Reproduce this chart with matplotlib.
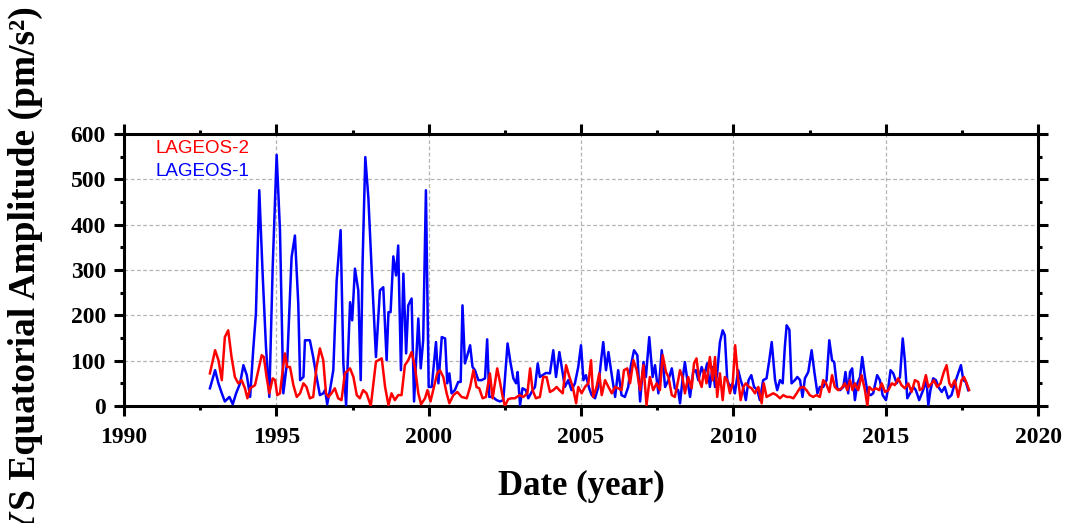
import matplotlib
matplotlib.use("Agg")
import matplotlib.pyplot as plt
from matplotlib.ticker import MultipleLocator

# ---------------- data ----------------
lageos1_years = [
    1992.82, 1992.99, 1993.10, 1993.21, 1993.31, 1993.46, 1993.57, 1993.68, 1993.81, 1993.92,
    1994.03, 1994.14, 1994.24, 1994.33, 1994.44, 1994.55, 1994.66, 1994.77, 1994.88, 1995.01,
    1995.12, 1995.23, 1995.36, 1995.50, 1995.61, 1995.72, 1995.78, 1995.89, 1995.94, 1996.10,
    1996.21, 1996.32, 1996.43, 1996.54, 1996.60, 1996.67, 1996.76, 1996.87, 1996.98, 1997.11,
    1997.20, 1997.29, 1997.36, 1997.42, 1997.49, 1997.58, 1997.69, 1997.77, 1997.83, 1997.92,
    1998.02, 1998.13, 1998.27, 1998.40, 1998.51, 1998.62, 1998.68, 1998.75, 1998.84, 1998.93,
    1999.00, 1999.09, 1999.17, 1999.26, 1999.33, 1999.44, 1999.52, 1999.66, 1999.74, 1999.82,
    1999.91, 2000.00, 2000.10, 2000.24, 2000.32, 2000.43, 2000.54, 2000.61, 2000.68, 2000.75,
    2000.86, 2000.97, 2001.05, 2001.11, 2001.19, 2001.27, 2001.36, 2001.44, 2001.52, 2001.63,
    2001.74, 2001.85, 2001.92, 2001.99, 2002.10, 2002.23, 2002.34, 2002.45, 2002.59, 2002.69,
    2002.78, 2002.87, 2002.92, 2003.00, 2003.08, 2003.19, 2003.27, 2003.38, 2003.49, 2003.58,
    2003.65, 2003.74, 2003.85, 2003.98, 2004.09, 2004.18, 2004.29, 2004.40, 2004.47, 2004.58,
    2004.69, 2004.80, 2004.91, 2005.00, 2005.08, 2005.16, 2005.27, 2005.35, 2005.46, 2005.57,
    2005.66, 2005.73, 2005.82, 2005.90, 2006.01, 2006.12, 2006.22, 2006.33, 2006.44, 2006.55,
    2006.64, 2006.74, 2006.85, 2006.94, 2007.05, 2007.13, 2007.24, 2007.35, 2007.43, 2007.54,
    2007.65, 2007.76, 2007.87, 2007.98, 2008.08, 2008.19, 2008.25, 2008.33, 2008.41, 2008.49,
    2008.58, 2008.68, 2008.77, 2008.85, 2008.96, 2009.05, 2009.14, 2009.23, 2009.32, 2009.40,
    2009.47, 2009.56, 2009.65, 2009.72, 2009.80, 2009.89, 2009.98, 2010.05, 2010.16, 2010.24,
    2010.33, 2010.41, 2010.50, 2010.59, 2010.68, 2010.79, 2010.87, 2010.98, 2011.09, 2011.18,
    2011.26, 2011.37, 2011.44, 2011.53, 2011.62, 2011.69, 2011.75, 2011.84, 2011.91, 2012.02,
    2012.10, 2012.19, 2012.27, 2012.35, 2012.46, 2012.57, 2012.66, 2012.76, 2012.84, 2012.95,
    2013.06, 2013.15, 2013.24, 2013.31, 2013.41, 2013.50, 2013.61, 2013.68, 2013.77, 2013.83,
    2013.90, 2013.99, 2014.07, 2014.16, 2014.23, 2014.32, 2014.41, 2014.51, 2014.59, 2014.72,
    2014.81, 2014.90, 2015.01, 2015.09, 2015.16, 2015.25, 2015.36, 2015.47, 2015.56, 2015.63,
    2015.71, 2015.80, 2015.91, 2015.99, 2016.10, 2016.23, 2016.34, 2016.40, 2016.47, 2016.56,
    2016.65, 2016.73, 2016.84, 2016.94, 2017.05, 2017.16, 2017.27, 2017.38, 2017.47, 2017.55,
    2017.63, 2017.71,
]
lageos1_amp = [
    39, 79, 50, 28, 10, 20, 4, 28, 50, 90,
    68, 20, 123, 204, 476, 292, 130, 20, 306, 554,
    387, 28, 101, 328, 376, 226, 57, 64, 145, 145,
    108, 64, 24, 28, 35, 4, 35, 79, 277, 388,
    94, 2, 123, 229, 189, 303, 255, 57, 314, 549,
    460, 299, 108, 255, 262, 101, 207, 207, 330, 288,
    354, 79, 292, 116, 222, 237, 10, 193, 83, 145,
    476, 42, 42, 141, 50, 152, 149, 50, 72, 28,
    35, 53, 53, 222, 94, 112, 134, 86, 79, 57,
    57, 61, 147, 20, 20, 13, 10, 13, 138, 94,
    61, 50, 75, 2, 39, 35, 17, 31, 42, 94,
    64, 68, 73, 72, 123, 64, 119, 72, 42, 57,
    35, 50, 86, 134, 57, 68, 39, 24, 17, 42,
    101, 141, 79, 119, 68, 20, 79, 24, 20, 42,
    90, 123, 112, 10, 97, 64, 152, 64, 90, 28,
    123, 42, 57, 83, 39, 35, 6, 57, 97, 57,
    20, 75, 79, 57, 86, 68, 94, 42, 86, 42,
    72, 141, 167, 156, 57, 42, 50, 28, 79, 57,
    39, 13, 57, 68, 42, 35, 13, 57, 61, 101,
    141, 57, 35, 57, 50, 130, 178, 168, 50, 57,
    64, 57, 20, 61, 75, 123, 75, 28, 42, 42,
    57, 145, 101, 97, 39, 35, 42, 75, 28, 75,
    83, 13, 50, 64, 108, 64, 28, 24, 28, 68,
    57, 24, 13, 42, 79, 72, 50, 64, 149, 101,
    17, 28, 42, 35, 13, 35, 57, 2, 35, 61,
    57, 42, 31, 42, 17, 24, 50, 72, 90, 57,
    53, 35,
]

lageos2_years = [
    1992.82, 1992.99, 1993.10, 1993.21, 1993.31, 1993.42, 1993.53, 1993.64, 1993.75, 1993.86,
    1993.97, 1994.05, 1994.14, 1994.30, 1994.41, 1994.52, 1994.59, 1994.68, 1994.77, 1994.88,
    1994.96, 1995.03, 1995.12, 1995.21, 1995.28, 1995.36, 1995.45, 1995.56, 1995.67, 1995.78,
    1995.89, 1995.99, 1996.10, 1996.21, 1996.32, 1996.43, 1996.54, 1996.63, 1996.71, 1996.81,
    1996.92, 1997.03, 1997.14, 1997.25, 1997.42, 1997.53, 1997.64, 1997.74, 1997.85, 1997.96,
    1998.10, 1998.27, 1998.46, 1998.57, 1998.68, 1998.78, 1998.89, 1999.00, 1999.11, 1999.22,
    1999.33, 1999.44, 1999.55, 1999.66, 1999.75, 1999.88, 1999.96, 2000.06, 2000.15, 2000.28,
    2000.37, 2000.48, 2000.59, 2000.68, 2000.81, 2000.94, 2001.08, 2001.25, 2001.36, 2001.47,
    2001.57, 2001.66, 2001.77, 2001.88, 2002.01, 2002.10, 2002.25, 2002.34, 2002.43, 2002.50,
    2002.61, 2002.72, 2002.83, 2002.98, 2003.11, 2003.24, 2003.33, 2003.41, 2003.52, 2003.65,
    2003.76, 2003.87, 2003.98, 2004.09, 2004.20, 2004.29, 2004.40, 2004.51, 2004.62, 2004.73,
    2004.84, 2004.91, 2005.02, 2005.13, 2005.24, 2005.33, 2005.40, 2005.51, 2005.60, 2005.68,
    2005.79, 2005.90, 2006.01, 2006.12, 2006.22, 2006.33, 2006.41, 2006.52, 2006.61, 2006.72,
    2006.83, 2006.94, 2007.05, 2007.15, 2007.26, 2007.37, 2007.48, 2007.59, 2007.68, 2007.79,
    2007.87, 2007.98, 2008.08, 2008.19, 2008.25, 2008.33, 2008.41, 2008.52, 2008.63, 2008.71,
    2008.79, 2008.88, 2008.96, 2009.04, 2009.12, 2009.23, 2009.32, 2009.40, 2009.47, 2009.56,
    2009.65, 2009.72, 2009.80, 2009.89, 2009.98, 2010.06, 2010.16, 2010.24, 2010.33, 2010.41,
    2010.52, 2010.60, 2010.71, 2010.82, 2010.93, 2011.00, 2011.09, 2011.20, 2011.31, 2011.42,
    2011.53, 2011.64, 2011.75, 2011.86, 2011.97, 2012.08, 2012.19, 2012.30, 2012.40, 2012.51,
    2012.62, 2012.73, 2012.84, 2012.95, 2013.04, 2013.15, 2013.24, 2013.33, 2013.44, 2013.55,
    2013.66, 2013.74, 2013.83, 2013.91, 2013.99, 2014.10, 2014.21, 2014.32, 2014.40, 2014.46,
    2014.57, 2014.68, 2014.79, 2014.87, 2014.98, 2015.09, 2015.20, 2015.30, 2015.41, 2015.52,
    2015.63, 2015.74, 2015.85, 2015.96, 2016.07, 2016.12, 2016.21, 2016.32, 2016.40, 2016.51,
    2016.58, 2016.69, 2016.80, 2016.91, 2017.00, 2017.09, 2017.16, 2017.27, 2017.38, 2017.49,
    2017.57, 2017.66, 2017.74,
]
lageos2_amp = [
    72, 123, 101, 57, 152, 167, 108, 64, 50, 57,
    39, 17, 39, 46, 79, 112, 108, 64, 28, 61,
    57, 24, 28, 79, 116, 86, 86, 46, 20, 28,
    50, 42, 17, 20, 86, 127, 101, 28, 20, 28,
    39, 17, 13, 72, 83, 64, 24, 17, 35, 28,
    0, 98, 105, 42, 2, 28, 13, 24, 24, 90,
    101, 119, 86, 28, 4, 17, 35, 10, 35, 72,
    79, 64, 28, 6, 24, 31, 20, 17, 42, 79,
    42, 39, 17, 20, 72, 17, 83, 53, 20, 0,
    15, 17, 17, 24, 20, 28, 83, 35, 17, 20,
    64, 64, 31, 35, 42, 35, 28, 90, 64, 42,
    6, 42, 28, 42, 50, 101, 20, 42, 72, 24,
    57, 42, 28, 42, 39, 35, 79, 83, 50, 101,
    79, 35, 90, 2, 64, 35, 50, 35, 112, 75,
    64, 24, 20, 57, 79, 64, 28, 64, 39, 94,
    105, 57, 42, 79, 50, 108, 57, 108, 20, 72,
    13, 64, 57, 28, 50, 134, 57, 13, 42, 50,
    42, 39, 28, 42, 6, 50, 20, 24, 28, 24,
    17, 24, 20, 20, 17, 28, 40, 42, 35, 24,
    20, 24, 20, 57, 50, 31, 68, 42, 35, 39,
    50, 35, 57, 35, 50, 35, 68, 35, 0, 42,
    35, 39, 35, 50, 31, 35, 50, 46, 61, 46,
    39, 50, 31, 57, 53, 35, 39, 68, 42, 50,
    57, 42, 50, 75, 90, 50, 42, 57, 20, 57,
    64, 50, 35,
]

series_labels = ["LAGEOS-2", "LAGEOS-1"]
x_label = "Date (year)"
y_label = "YS Equatorial Amplitude (pm/s²)"

# ---------------- figure ----------------
W, H = 1065, 523
fig = plt.figure(figsize=(W / 100, H / 100), dpi=100)
ax = fig.add_axes([124 / W, 1 - 406 / H, (1038 - 124) / W, (406 - 134) / H])

serif = ["Liberation Serif", "DejaVu Serif"]
sans = ["Liberation Sans", "DejaVu Sans"]

l1, = ax.plot(lageos1_years, lageos1_amp, color="#0000ff", lw=1.8, label=series_labels[1], zorder=3)
l2, = ax.plot(lageos2_years, lageos2_amp, color="#ff0000", lw=1.8, label=series_labels[0], zorder=4)

ax.set_xlim(1990, 2020)
ax.set_ylim(0, 600)
ax.xaxis.set_major_locator(MultipleLocator(5))
ax.xaxis.set_minor_locator(MultipleLocator(2.5))
ax.yaxis.set_major_locator(MultipleLocator(100))
ax.yaxis.set_minor_locator(MultipleLocator(50))

ax.grid(True, which="major", color="#b4b4b4", linestyle=(0, (3, 2)), linewidth=0.9, zorder=0)
ax.set_axisbelow(True)

for s in ax.spines.values():
    s.set_linewidth(2.2)
ax.tick_params(which="major", direction="out", length=7, width=2.2,
               top=True, right=True, labelsize=17)
ax.tick_params(axis="x", which="major", pad=8)
ax.tick_params(axis="y", which="major", pad=6)
ax.tick_params(which="minor", direction="out", length=3, width=2.2,
               top=True, right=True)
for lab in ax.get_xticklabels() + ax.get_yticklabels():
    lab.set_fontfamily(serif)
    lab.set_fontweight("bold")

ax.set_xlabel(x_label, fontsize=25, fontweight="bold", family=serif, labelpad=16)
fig.text(25 / W, 1 - 6 / H, y_label, rotation=90, ha="center", va="top",
         fontsize=27, fontweight="bold", family=serif)

leg = ax.legend(handles=[l2, l1], loc="upper left", bbox_to_anchor=(0.022, 1.02),
                frameon=False, handlelength=0, handletextpad=0, borderaxespad=0.2,
                labelspacing=0.3, prop={"family": sans, "size": 13.5})
for txt, ln in zip(leg.get_texts(), [l2, l1]):
    txt.set_color(ln.get_color())
for h in leg.legend_handles:
    h.set_visible(False)

fig.savefig("out.png", dpi=100)
